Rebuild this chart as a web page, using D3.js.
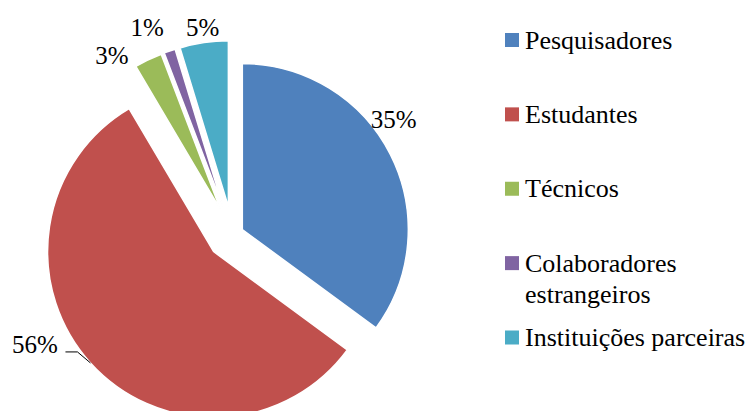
<!doctype html>
<html lang="en">
<head>
<meta charset="UTF-8">
<title>Pie</title>
<script src="https://d3js.org/d3.v7.min.js"></script>
<style>
body { margin: 0; background-color: #ffffff; }
svg { display: block; }
</style>
</head>
<body>
<div id="plot"></div>
<script>

// data
var categories = ["Pesquisadores", "Estudantes", "Técnicos", "Colaboradores estrangeiros", "Instituições parceiras"];
var legendLines = [["Pesquisadores"], ["Estudantes"], ["Técnicos"], ["Colaboradores", "estrangeiros"], ["Instituições parceiras"]];
var shares = [35.1, 56.4, 2.7, 1.1, 4.7];
var colors = ["#4F81BD", "#C0504D", "#9BBB59", "#8064A2", "#4BACC6"];

// layout
var width = 752;
var height = 411;
var cx = 232.5, cy = 234.5, radius = 166;
var explode = [11, 25.5, 28, 28, 28];
var labelAngle = [54, 242.7, 324.9, 337.1, 351.8];   // degrees, from slice tip
var labelDist = [187, 201, 188.7, 196, 181];
var serif = "'Liberation Serif', 'Times New Roman', Times, 'DejaVu Serif', serif";

var svg = d3.select("#plot").append("svg")
	.attr("width", width)
	.attr("height", height)
	.attr("font-family", serif);

var pie = d3.pie().sort(null).value(function (d) { return d; });
var arcs = pie(shares);

var arc = d3.arc().innerRadius(0).outerRadius(radius);

function polar(a, r) {
	return [Math.sin(a) * r, -Math.cos(a) * r];
}

arcs.forEach(function (d, i) {
	var mid = (d.startAngle + d.endAngle) / 2;
	var off = polar(mid, explode[i]);
	d.tip = [cx + off[0], cy + off[1]];
	d.mid = mid;
});

svg.selectAll("path.slice")
	.data(arcs)
	.enter().append("path")
	.attr("class", "slice")
	.attr("transform", function (d) { return "translate(" + d.tip[0] + "," + d.tip[1] + ")"; })
	.attr("d", arc)
	.style("fill", function (d, i) { return colors[i]; })
	.style("stroke", "#ffffff")
	.style("stroke-width", 1.5);

// leader line for the big slice
var red = arcs[1];
var p1 = polar(red.mid, radius);
var x1 = red.tip[0] + p1[0], y1 = red.tip[1] + p1[1];
svg.append("path")
	.attr("d", "M" + x1 + "," + y1 + "L" + (x1 - 13) + "," + (y1 - 11) + "L" + (x1 - 25) + "," + (y1 - 11))
	.style("fill", "none")
	.style("stroke", "#000000")
	.style("stroke-width", 1);

svg.selectAll("text.pct")
	.data(arcs)
	.enter().append("text")
	.attr("class", "pct")
	.attr("x", function (d, i) { return d.tip[0] + polar(labelAngle[i] * Math.PI / 180, labelDist[i])[0]; })
	.attr("y", function (d, i) { return d.tip[1] + polar(labelAngle[i] * Math.PI / 180, labelDist[i])[1]; })
	.attr("dy", "0.35em")
	.attr("text-anchor", "middle")
	.style("font-family", serif)
	.style("font-size", "25px")
	.style("fill", "#000000")
	.text(function (d) { return Math.round(d.data) + "%"; });

// legend
var legendY = d3.scalePoint().domain(categories).range([40, 337.5]);

var item = svg.selectAll("g.legend")
	.data(categories)
	.enter().append("g")
	.attr("class", "legend")
	.attr("transform", function (d) { return "translate(505," + legendY(d) + ")"; });

item.append("rect")
	.attr("x", 0)
	.attr("y", -7)
	.attr("width", 14)
	.attr("height", 14)
	.style("fill", function (d, i) { return colors[i]; });

item.append("text")
	.attr("x", 20)
	.attr("y", 8.5)
	.style("font-family", serif)
	.style("font-size", "26px")
	.style("fill", "#000000")
	.selectAll("tspan")
	.data(function (d, i) { return legendLines[i]; })
	.enter().append("tspan")
	.attr("x", 20)
	.attr("dy", function (d, j) { return j === 0 ? 0 : 31.5; })
	.text(function (d) { return d; });

</script>
</body>
</html>
